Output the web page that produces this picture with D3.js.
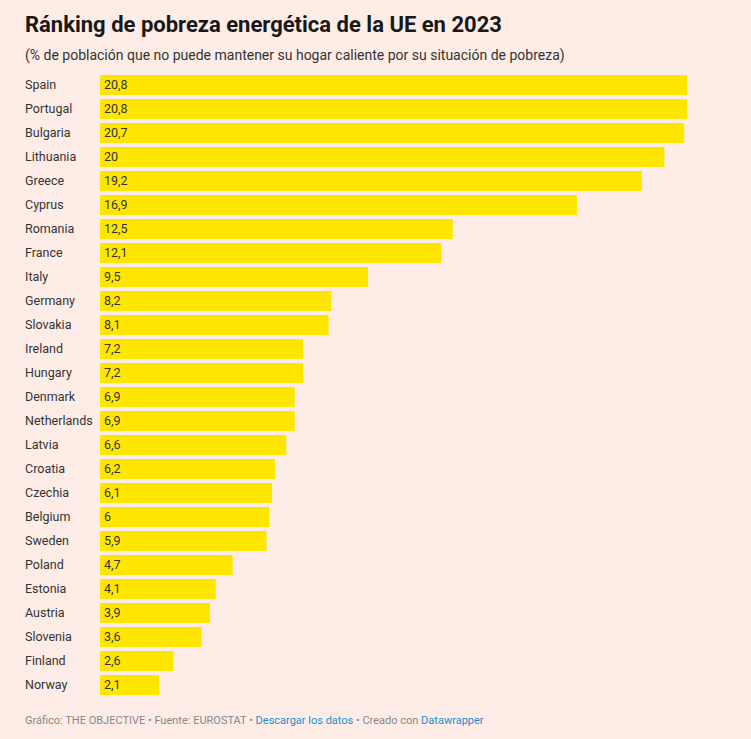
<!DOCTYPE html>
<meta charset="utf-8">
<style>
body {
  margin: 0;
  background: #feede7;
  font-family: Roboto, sans-serif;
}
.title { font-size: 22px; font-weight: 700; fill: #181818; }
.subtitle { font-size: 14px; fill: #333; }
.label { font-size: 12.5px; fill: #333; }
.value { font-size: 12.5px; fill: #333; }
.footer { font-size: 11px; fill: #888; }
.link { fill: #1a8fce; }
</style>
<body>
<script src="https://cdn.jsdelivr.net/npm/d3@7"></script>
<script>

var countries = ["Spain", "Portugal", "Bulgaria", "Lithuania", "Greece", "Cyprus", "Romania",
  "France", "Italy", "Germany", "Slovakia", "Ireland", "Hungary", "Denmark", "Netherlands",
  "Latvia", "Croatia", "Czechia", "Belgium", "Sweden", "Poland", "Estonia", "Austria",
  "Slovenia", "Finland", "Norway"];
var values = [20.8, 20.8, 20.7, 20, 19.2, 16.9, 12.5, 12.1, 9.5, 8.2, 8.1, 7.2, 7.2, 6.9, 6.9,
  6.6, 6.2, 6.1, 6, 5.9, 4.7, 4.1, 3.9, 3.6, 2.6, 2.1];

var data = countries.map(function(c, i) { return {country: c, value: values[i]}; });

var width = 751, height = 739;
var margin = {top: 72, left: 100, right: 64};

var svg = d3.select("body").append("svg")
  .attr("width", width)
  .attr("height", height);

// scales
var x = d3.scaleLinear()
  .domain([0, d3.max(values)])
  .range([margin.left, width - margin.right]);

var y = d3.scaleBand()
  .domain(countries)
  .range([margin.top + 1, margin.top + 1 + 24 * countries.length])
  .paddingInner(4 / 24)
  .paddingOuter(2 / 24);

// titles
svg.append("text")
  .attr("class", "title")
  .attr("x", 25)
  .attr("y", 32)
  .text("Ránking de pobreza energética de la UE en 2023");

svg.append("text")
  .attr("class", "subtitle")
  .attr("x", 25)
  .attr("y", 60)
  .text("(% de población que no puede mantener su hogar caliente por su situación de pobreza)");

// bars
svg.selectAll(".bar")
  .data(data)
  .enter().append("rect")
    .attr("class", "bar")
    .attr("fill", "#ffe600")
    .attr("x", x(0))
    .attr("y", function(d) { return y(d.country); })
    .attr("width", function(d) { return x(d.value) - x(0); })
    .attr("height", y.bandwidth());

// country labels
svg.selectAll(".label")
  .data(data)
  .enter().append("text")
    .attr("class", "label")
    .attr("x", 25)
    .attr("y", function(d) { return y(d.country) + y.bandwidth() / 2; })
    .attr("dy", "0.35em")
    .text(function(d) { return d.country; });

// value labels
svg.selectAll(".value")
  .data(data)
  .enter().append("text")
    .attr("class", "value")
    .attr("x", x(0) + 4)
    .attr("y", function(d) { return y(d.country) + y.bandwidth() / 2; })
    .attr("dy", "0.35em")
    .text(function(d) { return String(d.value).replace(".", ","); });

// footer
var foot = svg.append("text")
  .attr("class", "footer")
  .attr("x", 25)
  .attr("y", 724);
foot.append("tspan").text("Gráfico: THE OBJECTIVE • Fuente: EUROSTAT • ");
foot.append("tspan").attr("class", "link").text("Descargar los datos");
foot.append("tspan").text(" • Creado con ");
foot.append("tspan").attr("class", "link").text("Datawrapper");

</script>
</body>
